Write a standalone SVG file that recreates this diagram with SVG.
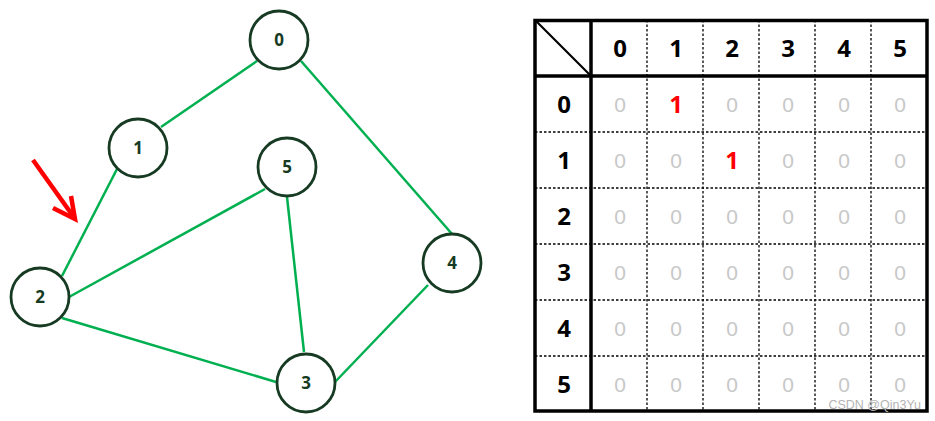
<svg xmlns="http://www.w3.org/2000/svg" width="935" height="421" viewBox="0 0 935 421">
<style>
.edge{stroke:#00b050;stroke-width:2.5;fill:none}
.node circle{fill:#fff;stroke:#163a22;stroke-width:2.8}
.lbl{font-family:"Open Sans","Liberation Sans",sans-serif;font-weight:bold;font-size:17px;fill:#163a22;text-anchor:middle}
.thick{stroke:#000;stroke-width:3.5;fill:none}
.dash{stroke:#000;stroke-width:1.3;stroke-dasharray:2.5 2;fill:none}
.hd{font-family:"Open Sans","Liberation Sans",sans-serif;font-weight:bold;font-size:24px;fill:#000;text-anchor:middle}
.z{font-family:"Liberation Sans",sans-serif;font-size:21px;fill:#c8c8c8;text-anchor:middle}
.one{font-family:"Open Sans","Liberation Sans",sans-serif;font-weight:bold;font-size:24px;fill:#ff0000;text-anchor:middle}
</style>
<rect width="935" height="421" fill="#fff"/>
<g id="connectors">
<line class="edge" x1="257" y1="61" x2="161" y2="127"/>
<line class="edge" x1="301" y1="61" x2="452" y2="234"/>
<line class="edge" x1="117" y1="169" x2="62" y2="276"/>
<line class="edge" x1="69" y1="297" x2="265" y2="189"/>
<line class="edge" x1="287" y1="197" x2="304" y2="352"/>
<line class="edge" x1="62" y1="318" x2="276" y2="382"/>
<line class="edge" x1="428" y1="285" x2="335" y2="382"/>
</g>
<g id="node0" class="node"><circle cx="279" cy="40" r="29"/><text class="lbl" x="279" y="46">0</text></g>
<g id="node1" class="node"><circle cx="138" cy="148" r="29"/><text class="lbl" x="138" y="154">1</text></g>
<g id="node5" class="node"><circle cx="287" cy="167" r="29"/><text class="lbl" x="287" y="173">5</text></g>
<g id="node4" class="node"><circle cx="452" cy="263" r="29"/><text class="lbl" x="452" y="269">4</text></g>
<g id="node2" class="node"><circle cx="40" cy="297" r="29"/><text class="lbl" x="40" y="303">2</text></g>
<g id="node3" class="node"><circle cx="306" cy="383" r="29"/><text class="lbl" x="306" y="389">3</text></g>
<g id="arrow">
<line x1="33" y1="160" x2="73" y2="216" stroke="#ff0000" stroke-width="4.5"/>
<polyline points="53,208 75,219 71,196" stroke="#ff0000" stroke-width="4.5" fill="none" stroke-linejoin="miter"/>
</g>
<g id="table">
<line class="dash" x1="647" y1="20" x2="647" y2="411"/>
<line class="dash" x1="703" y1="20" x2="703" y2="411"/>
<line class="dash" x1="759" y1="20" x2="759" y2="411"/>
<line class="dash" x1="815" y1="20" x2="815" y2="411"/>
<line class="dash" x1="871" y1="20" x2="871" y2="411"/>
<line class="dash" x1="535" y1="132" x2="927" y2="132"/>
<line class="dash" x1="535" y1="188" x2="927" y2="188"/>
<line class="dash" x1="535" y1="244" x2="927" y2="244"/>
<line class="dash" x1="535" y1="300" x2="927" y2="300"/>
<line class="dash" x1="535" y1="356" x2="927" y2="356"/>
<rect class="thick" x="535" y="20.5" width="392" height="390.5"/>
<line class="thick" x1="535" y1="76" x2="927" y2="76"/>
<line class="thick" x1="591" y1="20" x2="591" y2="411"/>
<line x1="536" y1="21" x2="590" y2="75" stroke="#000" stroke-width="2.2"/>
<text class="hd" x="620" y="57">0</text>
<text class="hd" x="676" y="57">1</text>
<text class="hd" x="732" y="57">2</text>
<text class="hd" x="788" y="57">3</text>
<text class="hd" x="844" y="57">4</text>
<text class="hd" x="900" y="57">5</text>
<text class="hd" x="564" y="113">0</text>
<text class="hd" x="564" y="169">1</text>
<text class="hd" x="564" y="225">2</text>
<text class="hd" x="564" y="281">3</text>
<text class="hd" x="564" y="337">4</text>
<text class="hd" x="564" y="393">5</text>
<text class="z" x="620" y="112">0</text><text class="one" x="676" y="113">1</text><text class="z" x="732" y="112">0</text><text class="z" x="788" y="112">0</text><text class="z" x="844" y="112">0</text><text class="z" x="900" y="112">0</text>
<text class="z" x="620" y="168">0</text><text class="z" x="676" y="168">0</text><text class="one" x="732" y="169">1</text><text class="z" x="788" y="168">0</text><text class="z" x="844" y="168">0</text><text class="z" x="900" y="168">0</text>
<text class="z" x="620" y="224">0</text><text class="z" x="676" y="224">0</text><text class="z" x="732" y="224">0</text><text class="z" x="788" y="224">0</text><text class="z" x="844" y="224">0</text><text class="z" x="900" y="224">0</text>
<text class="z" x="620" y="280">0</text><text class="z" x="676" y="280">0</text><text class="z" x="732" y="280">0</text><text class="z" x="788" y="280">0</text><text class="z" x="844" y="280">0</text><text class="z" x="900" y="280">0</text>
<text class="z" x="620" y="336">0</text><text class="z" x="676" y="336">0</text><text class="z" x="732" y="336">0</text><text class="z" x="788" y="336">0</text><text class="z" x="844" y="336">0</text><text class="z" x="900" y="336">0</text>
<text class="z" x="620" y="392">0</text><text class="z" x="676" y="392">0</text><text class="z" x="732" y="392">0</text><text class="z" x="788" y="392">0</text><text class="z" x="844" y="392">0</text><text class="z" x="900" y="392">0</text>
</g>
<text x="921" y="409" font-family="Liberation Sans,sans-serif" font-size="12.5" fill="#b4b4b4" text-anchor="end">CSDN @Qin3Yu</text>
</svg>
